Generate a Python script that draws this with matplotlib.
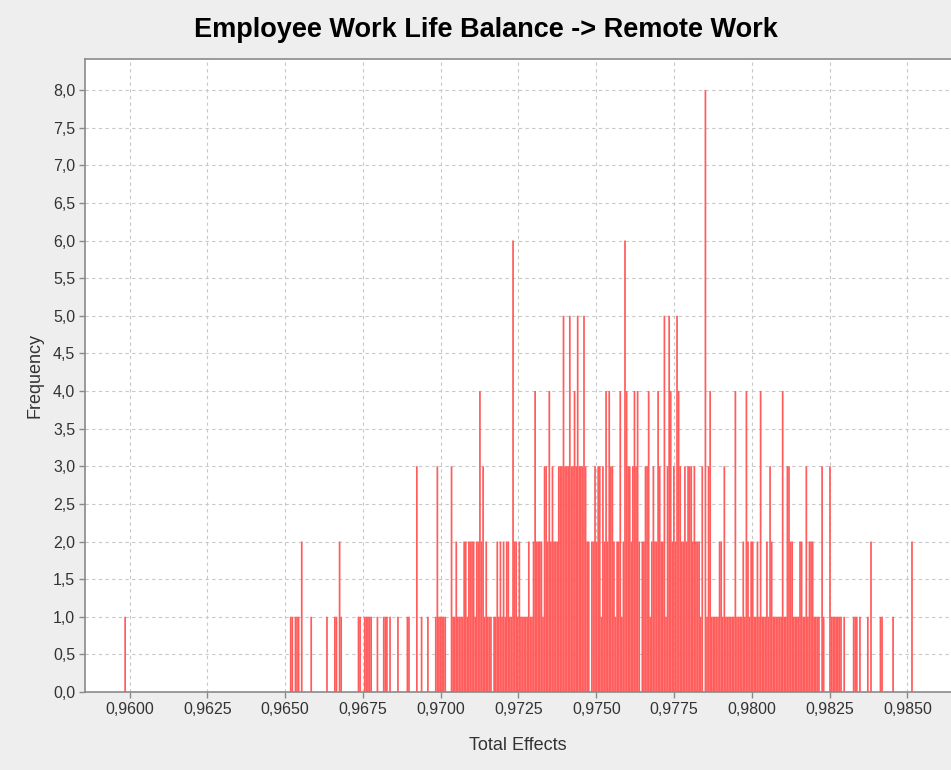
import matplotlib
matplotlib.use("Agg")
import matplotlib.pyplot as plt
from matplotlib.ticker import MultipleLocator, FuncFormatter
import numpy as np

plt.rcParams['font.family'] = ['Liberation Sans', 'DejaVu Sans']

title = "Employee Work Life Balance -> Remote Work"
x_label = "Total Effects"
y_label = "Frequency"

# histogram bins: centre of first bin and bin width (data units)
bin_first_center = 0.95986
bin_width = 0.00005067

# bootstrap frequency per bin (500 bins)
counts_0_99 = [
    1, 0, 0, 0, 0, 0, 0, 0, 0, 0,
    0, 0, 0, 0, 0, 0, 0, 0, 0, 0,
    0, 0, 0, 0, 0, 0, 0, 0, 0, 0,
    0, 0, 0, 0, 0, 0, 0, 0, 0, 0,
    0, 0, 0, 0, 0, 0, 0, 0, 0, 0,
    0, 0, 0, 0, 0, 0, 0, 0, 0, 0,
    0, 0, 0, 0, 0, 0, 0, 0, 0, 0,
    0, 0, 0, 0, 0, 0, 0, 0, 0, 0,
    0, 0, 0, 0, 0, 0, 0, 0, 0, 0,
    0, 0, 0, 0, 0, 0, 0, 0, 0, 0,
]
counts_100_199 = [
    0, 0, 0, 0, 0, 1, 1, 0, 1, 1,
    1, 0, 2, 0, 0, 0, 0, 0, 1, 0,
    0, 0, 0, 0, 0, 0, 0, 0, 1, 0,
    0, 0, 0, 1, 1, 0, 2, 1, 0, 0,
    0, 0, 0, 0, 0, 0, 0, 0, 1, 1,
    0, 0, 1, 1, 1, 1, 1, 0, 0, 0,
    1, 0, 0, 0, 1, 1, 1, 0, 1, 0,
    0, 0, 0, 1, 0, 0, 0, 0, 0, 1,
    1, 0, 0, 0, 0, 3, 0, 0, 1, 0,
    0, 0, 1, 0, 0, 0, 0, 1, 3, 1,
]
counts_200_299 = [
    1, 1, 1, 1, 0, 0, 0, 3, 1, 1,
    2, 1, 1, 1, 1, 2, 2, 1, 2, 2,
    2, 2, 1, 2, 2, 4, 2, 3, 1, 2,
    1, 1, 1, 0, 1, 1, 2, 1, 2, 1,
    2, 1, 2, 2, 1, 1, 6, 2, 2, 1,
    2, 1, 1, 1, 1, 1, 2, 1, 1, 2,
    4, 2, 2, 2, 2, 1, 3, 3, 2, 4,
    2, 3, 2, 2, 2, 3, 3, 3, 5, 3,
    3, 3, 5, 3, 3, 4, 3, 5, 3, 3,
    3, 5, 3, 2, 2, 0, 2, 2, 3, 2,
]
counts_300_399 = [
    3, 3, 1, 3, 2, 4, 2, 4, 3, 3,
    2, 1, 2, 2, 4, 1, 2, 6, 4, 3,
    3, 2, 3, 4, 3, 4, 2, 0, 2, 2,
    3, 3, 4, 1, 2, 3, 2, 2, 4, 3,
    2, 2, 5, 1, 3, 5, 4, 2, 3, 2,
    5, 4, 3, 2, 2, 3, 2, 3, 3, 3,
    2, 3, 2, 2, 2, 1, 3, 0, 8, 1,
    3, 4, 1, 1, 1, 1, 1, 2, 2, 1,
    3, 1, 1, 1, 1, 1, 1, 4, 1, 1,
    1, 1, 2, 1, 4, 2, 1, 2, 2, 1,
]
counts_400_499 = [
    1, 2, 1, 4, 1, 1, 1, 2, 1, 3,
    2, 1, 1, 1, 1, 1, 1, 4, 1, 1,
    3, 3, 2, 2, 1, 1, 1, 1, 2, 2,
    1, 1, 3, 1, 2, 2, 2, 1, 1, 1,
    1, 0, 3, 1, 0, 0, 0, 3, 1, 1,
    1, 1, 1, 1, 1, 0, 1, 0, 0, 0,
    0, 0, 1, 1, 1, 0, 1, 0, 0, 0,
    0, 1, 0, 2, 0, 0, 0, 0, 0, 1,
    1, 0, 0, 0, 0, 0, 0, 1, 0, 0,
    0, 0, 0, 0, 0, 0, 0, 0, 0, 2,
]

counts = np.array(counts_0_99 + counts_100_199 + counts_200_299
                  + counts_300_399 + counts_400_499, dtype=float)
centers = bin_first_center + bin_width * np.arange(len(counts))

W, H = 951, 770
fig = plt.figure(figsize=(W / 100, H / 100), dpi=100, facecolor='#eeeeee')
ax = fig.add_axes([85 / W, (H - 692) / H, (W - 85) / W, (692 - 59) / H])
ax.set_facecolor('white')

mask = counts > 0
bars = ax.bar(centers[mask], counts[mask], width=bin_width * 1.1,
              color='#ff5c5c', edgecolor='none', linewidth=0, zorder=2)
for b in bars:
    b.set_snap(False)

ax.set_xlim(0.95857, 0.986398)
ax.set_ylim(0, 8.412)
ax.xaxis.set_major_locator(MultipleLocator(0.0025))
ax.yaxis.set_major_locator(MultipleLocator(0.5))
ax.xaxis.set_major_formatter(FuncFormatter(lambda v, p: f"{v:.4f}".replace('.', ',')))
ax.yaxis.set_major_formatter(FuncFormatter(lambda v, p: f"{v:.1f}".replace('.', ',')))

ax.grid(True, color='#c8c8c8', linewidth=0.8, linestyle=(0, (3, 3)), zorder=0)
ax.set_axisbelow(True)

for side in ('left', 'bottom', 'top'):
    ax.spines[side].set_color('#8a8a8a')
    ax.spines[side].set_linewidth(1.2)
ax.spines['right'].set_visible(False)
ax.tick_params(axis='both', direction='out', length=4, width=1, color='#8a8a8a',
               labelsize=11.5, labelcolor='#333333', pad=3)

fig.text(486 / W, 1 - 30 / H, title, ha='center', va='center',
         fontsize=19.5, fontweight='bold', color='black')
fig.text(518 / W, 1 - 746 / H, x_label, ha='center', va='center',
         fontsize=13, color='#333333')
fig.text(35 / W, 1 - 375 / H, y_label, ha='center', va='center', rotation=90,
         fontsize=13, color='#333333')

fig.savefig('out.png', dpi=100, facecolor=fig.get_facecolor())
